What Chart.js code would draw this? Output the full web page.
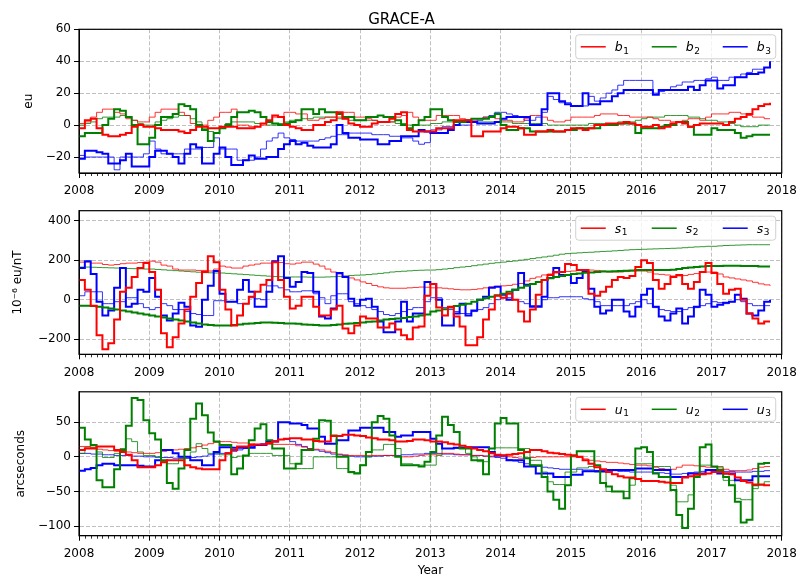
<!DOCTYPE html>
<html>
<head>
<meta charset="utf-8">
<script src="https://cdn.jsdelivr.net/npm/chart.js@4.4.0/dist/chart.umd.min.js"></script>
<style>
  body { margin: 0; background: #fff; }
  canvas { position: absolute; left: 0; }
</style>
</head>
<body>
<canvas id="panelB" width="803" height="200" style="top:0px"></canvas>
<canvas id="panelS" width="803" height="185" style="top:200px"></canvas>
<canvas id="panelU" width="803" height="204" style="top:380px"></canvas>
<script>
// monthly samples, Jan 2008 .. Nov 2017
const startYear = 2008;
const monthCount = 119;
const months = Array.from({ length: monthCount }, (_, i) => startYear + i / 12);

const yearTicks = [2008, 2009, 2010, 2011, 2012, 2013, 2014, 2015, 2016, 2017, 2018];
const bTicks = [-20, 0, 20, 40, 60];
const sTicks = [-200, 0, 200, 400];
const uTicks = [-100, -50, 0, 50];

// ---- b (eu) ----
const b1 = [
  -2, 3, 4, -2, -6, -7, -7, -6, -5, -1, 0, -1,
  -1, -2, -3, -3, -3, -4, -5, -3, -1, -1, -2, -2,
  -1, -1, -1, -2, -2, -2, -1, 1, 3, 6, 5, 0,
  -1, -2, -3, -3, 0, 0, 2, 3, 8, 4, 1, 0,
  -1, -1, 1, 2, 2, 4, 7, 8, -3, -4, -4, -4,
  -4, -2, -2, -2, 3, 3, 3, -7, -7, -4, -4, -4,
  -2, -1, -1, -2, -6, -6, -4, -4, -3, -4, -4, -3,
  -2, -2, -3, -2, 0, 0, 1, 1, 1, 2, 1, 0,
  -1, -1, 0, -2, -1, 1, 2, 1, -1, 0, 1, 1,
  1, 1, 0, 2, 4, 5, 7, 10, 12, 13, 14
];
const b1Thin = [
  1, 2, 5, 8, 10, 10, 8, 7, 4, 3, 2, 2,
  5, 8, 10, 10, 10, 8, 6, 1, 0, 0, 3, 5,
  8, 8, 10, 0, 0, -1, -1, 0, 2, 5, 5, 8,
  8, 7, 7, 3, 3, 4, 5, 5, 5, 8, 8, 5,
  5, 4, 3, 2, 2, 2, 5, 6, 8, 5, 3, 3,
  3, 6, 6, 6, 6, 4, 3, 3, 4, 5, 5, 4,
  3, 3, 2, 2, 4, 6, 6, 5, 3, 2, 2, 3,
  5, 5, 5, 5, 6, 7, 7, 7, 6, 6, 5, 5,
  5, 5, 4, 3, 3, 2, 2, 3, 4, 4, 3, 5,
  7, 7, 7, 8, 8, 7, 6, 5, 5, 4, 4
];
const b2 = [
  -7, -5, -5, -5, 0, 4, 10, 9, 5, 0, -12, -12,
  -8, 0, 5, 5, 7, 13, 12, 10, 0, -3, -10, -5,
  -2, 0, 5, 8, 8, 9, 8, 5, 2, 1, 0, 1,
  2, 3, 10, 10, 7, 10, 8, 8, 7, 5, 5, 3,
  3, 5, 5, 6, 5, 5, 3, 0, -2, 0, 3, 5,
  10, 10, 5, 3, 2, 2, 3, 4, 4, 4, 5, 7,
  0, -3, -3, -2, -2, -4, -4, -4, -4, -4, -4, -3,
  -3, -2, -2, -2, -2, 0, 0, 0, 1, 1, 1, -5,
  -2, -2, -2, -1, 0, 0, 2, 2, -1, -6, -6, -6,
  -2, -3, -3, -3, -5, -8, -7, -6, -6, -6, -6
];
const b2Thin = [
  0, 1, 2, 4, 5, 5, 5, 6, 5, 3, 1, 0,
  0, 2, 3, 4, 5, 6, 6, 4, 2, -2, -4, -5,
  -2, 1, 2, 2, 2, 2, 1, 1, 0, 0, 1, 2,
  3, 3, 4, 4, 5, 5, 5, 5, 4, 4, 3, 3,
  3, 3, 3, 2, 2, 2, 1, 1, 0, 0, 0, 0,
  1, 1, 2, 2, 2, 2, 2, 2, 2, 2, 2, 2,
  2, 2, 1, 1, 1, 1, 1, 1, 0, 0, 0, 0,
  0, 0, 0, 1, 1, 1, 1, 1, 2, 2, 2, 3,
  4, 5, 5, 5, 6, 6, 6, 6, 5, 5, 4, 3,
  3, 2, 2, 1, 0, -1, -1, -1, 0, 0, 0
];
const b3 = [
  -21, -16, -16, -17, -18, -24, -24, -22, -18, -26, -26, -26,
  -20, -16, -16, -18, -20, -24, -18, -12, -14, -24, -24, -18,
  -14, -20, -25, -25, -22, -19, -21, -21, -20, -20, -15, -12,
  -10, -12, -11, -13, -14, -14, -14, -12, 0, -5, -8, -8,
  -9, -9, -9, -12, -12, -10, -10, -7, -7, -7, -3, -4,
  -5, -5, -5, -3, 0, 2, 2, 2, 1, 1, 1, 2,
  4, 5, 5, 5, 5, 0, 0, 10, 20, 20, 15, 13,
  12, 12, 20, 13, 13, 15, 15, 18, 20, 22, 22, 22,
  22, 22, 19, 22, 22, 22, 22, 22, 24, 22, 25, 28,
  28, 23, 25, 25, 30, 30, 32, 32, 33, 36, 40
];
const b3Thin = [
  -19, -20, -20, -20, -20, -20, -28, -20, -20, -20, -20, -18,
  -10, -15, -18, -18, -18, -18, -15, -15, -15, -14, -14, -8,
  -15, -15, -15, -22, -22, -22, -20, -15, -10, -8, -5, -8,
  -9, -10, -10, -10, -10, -9, -8, -7, -6, -6, -5, -5,
  -5, -5, -6, -6, -6, -7, -7, -8, -8, -10, -12, -11,
  -3, -3, -1, -1, 0, 0, 0, 2, 3, 5, 6, 8,
  8, 7, 6, 5, 3, 3, 5, 8, 18, 16, 14, 14,
  12, 12, 12, 18, 15, 17, 20, 22, 25, 28, 28, 28,
  28, 28, 20, 21, 22, 24, 25, 27, 27, 28, 28, 29,
  30, 28, 28, 30, 30, 32, 33, 35, 35, 36, 36
];

// ---- s (1e-6 eu/nT) ----
const s1 = [
  100, 50, -30, -180, -250, -220, -100, 40, 60, 115, 160, 185,
  140, 50, -170, -240, -190, -120, -50, 15, 85, 140, 220, 190,
  50, -50, -130, -80, -20, 15, 40, 75, 100, 190, 100, 15,
  -45, -30, 15, 15, -35, -80, -80, -50, -30, -145, -170, -130,
  -85, -95, -95, -140, -140, -120, -150, -180, -200, -140, -135, 20,
  80, -40, -80, -35, -85, -135, -230, -230, -190, -100, -50, 20,
  10, 30, 0, -60, -110, -50, 25, 100, 125, 140, 140, 180,
  175, 150, 150, 30, 20, 40, 65, 100, 115, 110, 120, 165,
  200, 185, 100, 55, 80, 115, 125, 80, 55, 90, 140, 185,
  135, 80, 30, 50, 55, 0, -70, -95, -120, -110, -110
];
const s1Thin = [
  190, 190, 185, 185, 178, 175, 178, 182, 185, 185, 188, 190,
  195, 190, 175, 170, 155, 150, 150, 150, 148, 148, 145, 155,
  170, 165, 160, 160, 170, 175, 180, 185, 185, 190, 188, 182,
  180, 185, 190, 190, 180, 170, 155, 140, 130, 118, 110, 100,
  90, 82, 72, 65, 60, 58, 58, 58, 60, 62, 64, 63,
  60, 60, 58, 55, 52, 50, 50, 52, 55, 60, 65, 68,
  70, 72, 78, 82, 95, 108, 115, 125, 130, 135, 140, 143,
  145, 148, 150, 150, 148, 145, 140, 140, 140, 142, 145, 145,
  145, 140, 130, 128, 125, 120, 120, 122, 128, 132, 138, 140,
  140, 130, 115, 110, 105, 100, 95, 88, 80, 75, 70
];
const s2 = [
  -30, -30, -32, -35, -40, -45, -50, -55, -60, -65, -70, -75,
  -80, -85, -90, -95, -100, -105, -110, -115, -120, -125, -128, -130,
  -130, -130, -128, -125, -122, -120, -118, -115, -115, -117, -118, -120,
  -120, -122, -125, -127, -128, -130, -130, -128, -125, -122, -120, -118,
  -115, -112, -110, -105, -100, -97, -95, -92, -88, -85, -80, -75,
  -60, -55, -48, -40, -32, -25, -20, -10, 0, 8, 15, 22,
  30, 40, 50, 60, 70, 80, 90, 100, 108, 115, 120, 125,
  130, 133, 136, 138, 140, 142, 143, 144, 145, 147, 148, 150,
  150, 150, 150, 150, 150, 152, 155, 160, 163, 165, 168, 170,
  170, 170, 172, 172, 172, 170, 170, 170, 168, 168, 168
];
const s2Thin = [
  165, 165, 164, 163, 162, 161, 160, 159, 158, 157, 156, 155,
  155, 153, 151, 149, 147, 145, 143, 141, 139, 137, 136, 135,
  135, 133, 131, 129, 127, 125, 123, 121, 119, 117, 116, 115,
  115, 115, 115, 114, 114, 114, 115, 116, 118, 120, 122, 124,
  125, 127, 130, 133, 136, 140, 142, 144, 146, 148, 149, 150,
  150, 152, 155, 158, 162, 165, 168, 172, 176, 180, 184, 187,
  190, 193, 196, 200, 204, 208, 212, 216, 220, 225, 230, 233,
  235, 237, 239, 240, 242, 244, 245, 247, 249, 251, 253, 254,
  255, 256, 257, 258, 259, 260, 261, 263, 265, 267, 268, 270,
  270, 272, 274, 275, 276, 277, 278, 278, 278, 278, 278
];
const s3 = [
  160, 195, 130, -10, -80, -55, 60, 160, -35, -20, 50, 40,
  110, 15, -80, -105, -70, -15, -35, -130, -137, 0, 70, 145,
  30, -10, -10, 50, 100, 40, -35, -35, 40, 195, 220, 110,
  65, 90, 140, 135, 40, -85, -95, -45, 135, 115, 5, -30,
  0, 5, -35, -110, -165, -165, -110, -10, -110, -70, -70, 90,
  80, 0, -130, -130, -70, -20, -80, -55, 0, 15, 60, 65,
  25, 0, 50, 135, 75, -35, -35, 15, 110, 160, 125, 125,
  85, 110, 140, 55, -35, -70, -55, 0, 0, -60, -85, -35,
  25, 55, -35, -85, -105, -70, -45, -120, -85, -35, 50, 25,
  -35, -25, -15, -10, 25, 5, -70, -80, -55, -10, 0
];
const s3Thin = [
  20, 40, 40, 40, -20, -20, -10, -10, 10, 10, -20, -40,
  -50, -40, -20, -30, -50, -50, -60, -70, -75, -80, -80, -5,
  -5, -10, -10, -20, -20, 10, 5, 0, 70, 70, 60, 50,
  40, 40, 45, 45, 30, 10, -20, 20, 30, 30, -10, -20,
  -30, -40, -50, -60, -75, -80, -70, -60, -50, -40, -40, -10,
  10, 10, -40, -50, -60, -70, -70, -60, -50, -40, -20, 0,
  10, 10, 0, -10, -20, -30, -30, 0, 10, 10, 15, 15,
  15, 15, 5, 0, -10, -30, -30, -30, -30, -30, -20, -10,
  0, -20, -40, -50, -55, -60, -60, -50, -40, -40, -30, -20,
  -10, -15, -20, -10, 0, -10, -20, -30, -30, -30, -30
];

// ---- u (arcseconds) ----
const u1 = [
  10, 12, 12, 15, 15, 15, 10, 7, 3, -5, -15, -15,
  -15, -12, -8, -5, -5, -5, -12, -15, -17, -18, -18, -18,
  -5, 5, 10, 15, 15, 17, 18, 18, 20, 22, 25, 26,
  27, 27, 25, 25, 23, 22, 22, 30, 30, 32, 32, 31,
  30, 28, 27, 25, 25, 24, 22, 22, 23, 25, 25, 24,
  22, 22, 21, 19, 18, 16, 14, 12, 10, 8, 5, 3,
  2, 3, 4, 5, 7, 10, 10, 8, 6, 5, 4, 3,
  2, 0, -5, -10, -15, -18, -22, -25, -28, -30, -30, -32,
  -35, -35, -35, -36, -37, -38, -38, -30, -28, -26, -25, -24,
  -22, -22, -24, -25, -30, -35, -37, -40, -40, -41, -41
];
const u1Thin = [
  15, 15, 13, 11, 10, 9, 8, 8, 7, 6, 5, 5,
  5, 6, 8, 10, 10, 11, 12, 13, 15, 17, 19, 21,
  22, 22, 21, 20, 20, 19, 18, 18, 18, 18, 18, 18,
  18, 16, 14, 12, 11, 10, 8, 6, 4, 3, 2, 2,
  2, 2, 2, 2, 2, 2, 1, 0, 0, 1, 2, 3,
  3, 4, 5, 5, 4, 3, 3, 2, 2, 1, 1, 1,
  1, 0, -1, -2, -2, -1, 0, 0, 0, 0, 0, 0,
  0, -1, -3, -5, -6, -7, -8, -8, -9, -10, -11, -12,
  -12, -13, -15, -17, -18, -18, -15, -12, -12, -13, -14, -15,
  -15, -16, -18, -20, -20, -20, -19, -17, -15, -14, -14
];
const u2 = [
  42, 25, 17, -34, -44, -44, -18, 10, 45, 85, 82, 53,
  34, 25, -5, -38, -46, -17, 10, 55, 77, 60, 35, 22,
  17, 17, -25, -17, 2, 24, 41, 47, 24, 12, 12, -17,
  -17, -10, 10, 10, 26, 53, 52, 31, 0, 0, -22, -24,
  -12, 7, 50, 59, 55, 31, 0, -12, -12, -12, -14, -7,
  7, 31, 58, 46, 36, 12, 12, -5, -5, -25, 12, 48,
  56, 48, 48, 10, -2, -12, -12, -29, -50, -62, -75, -41,
  2, 8, 8, 8, -12, -38, -43, -50, -50, -60, -31, 12,
  14, 7, -24, -29, -29, -48, -84, -103, -75, -29, 14, 18,
  -14, -19, -29, -41, -65, -95, -91, -41, -10, -9, -9
];
const u2Thin = [
  5, 14, 14, 7, -1, -1, 5, 12, 26, 22, 7, 2,
  2, -1, -7, -10, -10, -2, -2, 7, 19, 12, 5, 5,
  3, 3, -1, 1, 1, 5, 5, 5, 5, 2, 2, 2,
  -10, -17, -17, -17, 0, 0, 0, 0, -17, -17, -23, -23,
  -12, 0, 10, 10, 18, 18, 12, -10, -10, -12, -12, -12,
  -12, 2, 12, 12, 12, 12, 5, 0, -7, -7, 7, 13,
  13, 13, 13, 12, 12, -5, -5, -22, -36, -40, -40, -22,
  -22, -16, -16, -14, -22, -22, -50, -50, -50, -50, -41, -10,
  -10, -10, -14, -14, -14, -41, -65, -65, -55, -26, -12, -12,
  -14, -14, -34, -34, -60, -62, -62, -46, -41, -36, -36
];
const u3 = [
  -20, -18, -16, -12, -10, -10, -12, -12, -12, -12, -13, -14,
  -14, -5, 10, 10, 5, 0, 0, -5, -5, -12, -12, 7,
  14, 14, 13, 13, 13, 13, 17, 17, 22, 22, 50, 50,
  48, 48, 46, 41, 41, 29, 19, 19, 24, 24, 38, 38,
  42, 42, 42, 42, 36, 36, 29, 31, 31, 36, 36, 36,
  26, 19, 12, 12, 13, 13, 14, 14, 14, 14, 7, 2,
  2, -5, -5, -5, -14, -14, -24, -24, -24, -29, -29, -29,
  -26, -26, -21, -21, -21, -21, -19, -19, -19, -19, -19, -17,
  -17, -17, -19, -19, -19, -29, -29, -29, -24, -24, -24, -19,
  -19, -24, -24, -24, -34, -34, -34, -28, -28, -28, -28
];
const u3Thin = [
  5, 5, 4, 4, 3, 3, 2, 2, 2, 1, 1, 0,
  0, 0, -1, -1, -2, -2, -2, -1, 0, 1, 3, 4,
  5, 6, 8, 10, 12, 15, 17, 19, 21, 23, 25, 25,
  22, 18, 15, 12, 10, 8, 6, 4, 3, 2, 1, 0,
  0, 0, 1, 1, 2, 2, 2, 3, 3, 4, 4, 5,
  5, 5, 4, 4, 3, 3, 3, 2, 2, 1, 0, -1,
  -2, -4, -6, -8, -10, -12, -14, -15, -16, -17, -18, -18,
  -18, -18, -19, -19, -20, -20, -20, -20, -21, -21, -22, -22,
  -22, -22, -23, -23, -24, -25, -25, -24, -23, -22, -21, -20,
  -20, -20, -21, -21, -22, -22, -22, -21, -21, -20, -20
];

const colors = ['#ff0000', '#008000', '#0000ff'];
const thinColors = ['rgba(255,0,0,0.8)', 'rgba(0,128,0,0.8)', 'rgba(0,0,255,0.8)'];

Chart.defaults.font.family = '"DejaVu Sans", sans-serif';
Chart.defaults.font.size = 12;
Chart.defaults.color = '#000';

// draws the full box around the plot area
const framePlugin = {
  id: 'frame',
  afterDraw(chart) {
    const { ctx, chartArea: a } = chart;
    ctx.save();
    ctx.strokeStyle = '#000';
    ctx.lineWidth = 1.2;
    ctx.strokeRect(a.left, a.top, a.right - a.left, a.bottom - a.top);
    ctx.restore();
  }
};

// monthly minor ticks under the x axis
const minorTicks = {
  id: 'minorTicks',
  afterDraw(chart) {
    const { ctx, chartArea: a } = chart;
    const x = chart.scales.x;
    ctx.save();
    ctx.strokeStyle = '#000';
    ctx.lineWidth = 0.8;
    ctx.beginPath();
    for (let yr = yearTicks[0]; yr < yearTicks[yearTicks.length - 1]; yr++) {
      for (let m = 1; m < 12; m++) {
        const px = Math.round(x.getPixelForValue(yr + m / 12)) + 0.5;
        ctx.moveTo(px, a.bottom);
        ctx.lineTo(px, a.bottom + 3);
      }
    }
    ctx.stroke();
    ctx.restore();
  }
};

// legend with italic symbol and subscript index
const mathLegend = {
  id: 'mathLegend',
  afterDraw(chart, args, opts) {
    const { ctx, chartArea: a } = chart;
    const items = chart.data.datasets.filter(d => !d.thin);
    const w = 200, h = 24;
    const left = a.right - 6 - w;
    const top = a.top + 5.5;
    ctx.save();
    ctx.beginPath();
    ctx.roundRect(left, top, w, h, 3);
    ctx.fillStyle = 'rgba(255,255,255,0.8)';
    ctx.fill();
    ctx.strokeStyle = '#d0d0d0';
    ctx.lineWidth = 1;
    ctx.stroke();
    items.forEach((d, i) => {
      const x0 = left + 5 + i * 71;
      const yMid = top + h / 2;
      ctx.strokeStyle = d.borderColor;
      ctx.lineWidth = 1.5;
      ctx.beginPath();
      ctx.moveTo(x0, yMid);
      ctx.lineTo(x0 + 25, yMid);
      ctx.stroke();
      const sym = d.label.charAt(0);
      const sub = d.label.slice(1);
      ctx.fillStyle = '#000';
      ctx.textBaseline = 'alphabetic';
      ctx.textAlign = 'left';
      ctx.font = 'italic 12.5px "DejaVu Sans"';
      ctx.fillText(sym, x0 + 34, yMid + 4.5);
      const sw = ctx.measureText(sym).width;
      ctx.font = '9px "DejaVu Sans"';
      ctx.fillText(sub, x0 + 34 + sw + 0.5, yMid + 7);
    });
    ctx.restore();
  }
};

function stepSet(label, values, k, thin) {
  return {
    label: label,
    data: values,
    thin: thin,
    borderColor: thin ? thinColors[k] : colors[k],
    borderWidth: thin ? 1 : 2,
    stepped: 'before',
    pointRadius: 0,
    fill: false,
    order: thin ? 2 : 1
  };
}

function minusSign(v) {
  return String(v).replace('-', '\u2212');
}

function makePanel(id, p) {
  const grid = { color: '#b0b0b0', lineWidth: 0.8, tickColor: '#000', tickLength: 5, tickWidth: 1 };
  const border = { dash: [4, 2], color: '#000', width: 1 };
  new Chart(document.getElementById(id), {
    type: 'line',
    data: {
      labels: months,
      datasets: [
        stepSet(p.sym + '1', p.series[0], 0, false),
        stepSet(p.sym + '2', p.series[1], 1, false),
        stepSet(p.sym + '3', p.series[2], 2, false),
        stepSet(p.sym + '1 thin', p.thinSeries[0], 0, true),
        stepSet(p.sym + '2 thin', p.thinSeries[1], 1, true),
        stepSet(p.sym + '3 thin', p.thinSeries[2], 2, true)
      ]
    },
    options: {
      responsive: false,
      animation: false,
      events: [],
      layout: { padding: p.padding },
      plugins: {
        legend: { display: false },
        tooltip: { enabled: false },
        title: p.title
          ? { display: true, text: p.title, color: '#000', font: { size: 15, weight: 'normal' }, padding: { top: 11.3, bottom: 0 } }
          : { display: false },
        mathLegend: {}
      },
      scales: {
        x: {
          type: 'linear',
          min: yearTicks[0],
          max: yearTicks[yearTicks.length - 1],
          afterBuildTicks: s => { s.ticks = yearTicks.map(v => ({ value: v })); },
          afterFit: s => { s.height = p.xHeight; },
          ticks: { autoSkip: false, maxRotation: 0, padding: 6, callback: v => String(v) },
          grid: grid,
          border: border,
          title: p.xTitle
            ? { display: true, text: p.xTitle, padding: { top: 0, bottom: 5.8 } }
            : { display: false }
        },
        y: {
          min: p.min,
          max: p.max,
          afterBuildTicks: s => { s.ticks = p.ticks.map(v => ({ value: v })); },
          afterFit: s => { s.width = p.yWidth; },
          ticks: { padding: 3, callback: v => minusSign(v) },
          grid: grid,
          border: border,
          title: { display: true, text: p.yTitle, padding: { top: p.yTitlePad, bottom: 0 } }
        }
      }
    },
    plugins: [framePlugin, minorTicks, mathLegend]
  });
}

makePanel('panelB', {
  sym: 'b', series: [b1, b2, b3], thinSeries: [b1Thin, b2Thin, b3Thin],
  min: -30, max: 60, ticks: bTicks, yTitle: 'eu', title: 'GRACE-A',
  padding: { left: 20, right: 20, top: 0, bottom: 0 }, yWidth: 59, yTitlePad: 2, xHeight: 27
});
makePanel('panelS', {
  sym: 's', series: [s1, s2, s3], thinSeries: [s1Thin, s2Thin, s3Thin],
  min: -276, max: 450, ticks: sTicks, yTitle: '10\u207B\u2076 eu/nT',
  padding: { left: 0, right: 20, top: 10.7, bottom: 0 }, yWidth: 79, yTitlePad: 11, xHeight: 30.7
});
makePanel('panelU', {
  sym: 'u', series: [u1, u2, u3], thinSeries: [u1Thin, u2Thin, u3Thin],
  min: -114, max: 94, ticks: uTicks, yTitle: 'arcseconds', xTitle: 'Year',
  padding: { left: 0, right: 20, top: 11.8, bottom: 0 }, yWidth: 79, yTitlePad: 14, xHeight: 48.3
});
</script>
</body>
</html>
